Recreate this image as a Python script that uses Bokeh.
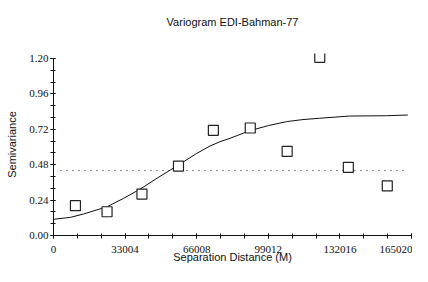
from bokeh.plotting import figure
from bokeh.models import Range1d, FixedTicker, Title
from bokeh.embed import file_html
from bokeh.resources import INLINE

# experimental variogram points
lag = [10113, 24685, 40772, 57600, 73690, 90700, 107700, 122730, 135900, 153850]
semivar = [0.202, 0.161, 0.281, 0.471, 0.713, 0.729, 0.571, 1.208, 0.462, 0.336]

# fitted model curve
model_lag = [0, 7815, 13930, 24690, 32320, 39990, 47670, 57600, 66060, 72170,
             76770, 81370, 90560, 99000, 107430, 115000, 122740, 136530, 153400, 163330]
model_semivar = [0.110, 0.123, 0.146, 0.195, 0.252, 0.315, 0.388, 0.478, 0.557, 0.607,
                 0.636, 0.659, 0.711, 0.745, 0.772, 0.786, 0.795, 0.810, 0.812, 0.817]

# sample variance line
sill_lag = [3200, 162600]
sill_value = [0.44, 0.44]

x_ticks = [0, 33004, 66008, 99012, 132016, 165020]
x_tick_labels = ["0", "33004", "66008", "99012", "132016", "165020"]
y_ticks = [0.0, 0.24, 0.48, 0.72, 0.96, 1.20]
y_tick_labels = ["0.00", "0.24", "0.48", "0.72", "0.96", "1.20"]

title_text = "Variogram EDI-Bahman-77"
x_label = "Separation Distance (M)"
y_label = "Semivariance"

FONT = "Liberation Sans"
TICKFONT = "Liberation Sans Narrow"

p = figure(width=412, height=266, output_backend="svg", toolbar_location=None,
           x_range=Range1d(0, 165020), y_range=Range1d(0, 1.234),
           min_border_left=53, min_border_right=1, min_border_top=53, min_border_bottom=31)
p.outline_line_color = None
p.xgrid.visible = False
p.ygrid.visible = False
p.background_fill_color = "white"
p.border_fill_color = "white"

p.title.text = title_text
p.title.align = "center"
p.title.offset = -19
p.title.standoff = 0
p.title.text_font = FONT
p.title.text_font_size = "11px"
p.title.text_font_style = "normal"
p.title.text_color = "#111111"

# blank spacer between the title and the plot area
p.add_layout(Title(text=" ", text_font=FONT, text_font_size="11px", standoff=12), "above")

x_minor = [i * 165020 / 15 for i in range(16)]
y_minor = [round(i * 0.08, 2) for i in range(16)]

p.xaxis.ticker = FixedTicker(ticks=x_ticks, minor_ticks=x_minor)
p.yaxis.ticker = FixedTicker(ticks=y_ticks, minor_ticks=y_minor)
p.xaxis.major_label_overrides = {t: l for t, l in zip(x_ticks, x_tick_labels)}
p.yaxis.major_label_overrides = {t: l for t, l in zip(y_ticks, y_tick_labels)}
p.yaxis.bounds = (0, 1.2)

for ax in (p.xaxis[0], p.yaxis[0]):
    ax.axis_line_color = "#111111"
    ax.axis_line_width = 1
    ax.major_tick_line_color = "#111111"
    ax.minor_tick_line_color = "#111111"
    ax.major_tick_in = 2
    ax.major_tick_out = 3
    ax.minor_tick_in = 2
    ax.minor_tick_out = 3
    ax.major_label_text_font = TICKFONT
    ax.major_label_text_font_size = "11px"
    ax.major_label_text_color = "#111111"
    ax.axis_label_text_font = FONT
    ax.axis_label_text_font_size = "11px"
    ax.axis_label_text_font_style = "normal"
    ax.axis_label_text_color = "#111111"

p.xaxis.axis_label = x_label
p.yaxis.axis_label = y_label
p.xaxis.major_label_standoff = 7
p.xaxis.axis_label_standoff = -5
p.yaxis.major_label_standoff = 2
p.yaxis.axis_label_standoff = 8

p.line(sill_lag, sill_value, line_color="#111111", line_width=1, line_dash="1 5")
p.line(model_lag, model_semivar, line_color="#111111", line_width=1)
p.scatter(lag, semivar, marker="square", size=10, line_color="#222222",
          line_width=1.2, fill_color="white")

open("out.html", "w").write(file_html(p, INLINE))
